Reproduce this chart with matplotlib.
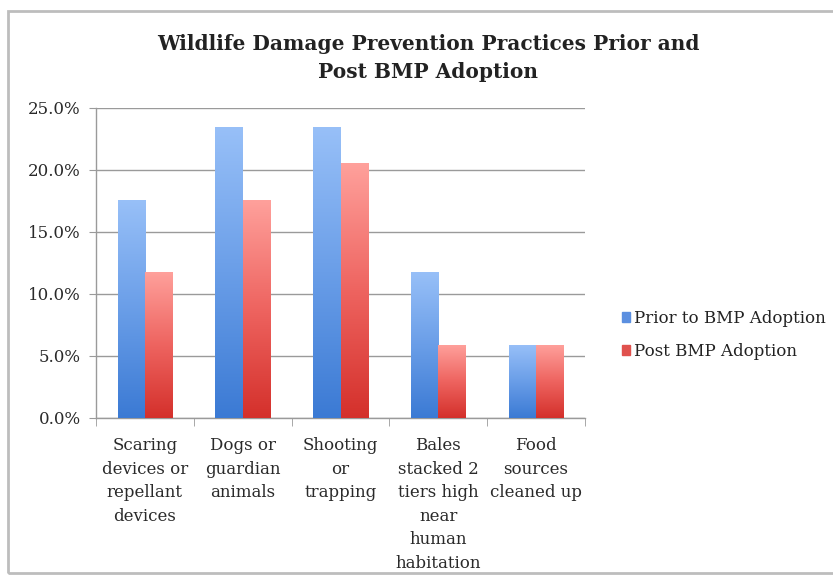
import numpy as np
import matplotlib
matplotlib.use("Agg")
import matplotlib.pyplot as plt
from matplotlib.patches import Rectangle
from matplotlib.colors import LinearSegmentedColormap
from matplotlib.ticker import PercentFormatter

categories = [
    "Scaring\ndevices or\nrepellant\ndevices",
    "Dogs or\nguardian\nanimals",
    "Shooting\nor\ntrapping",
    "Bales\nstacked 2\ntiers high\nnear\nhuman\nhabitation",
    "Food\nsources\ncleaned up",
]
prior = [17.6, 23.5, 23.5, 11.8, 5.9]
post = [11.8, 17.6, 20.6, 5.9, 5.9]
series_names = ["Prior to BMP Adoption", "Post BMP Adoption"]
yticks = [0, 5, 10, 15, 20, 25]

blue_grad = LinearSegmentedColormap.from_list("blue_grad", ["#3B7AD4", "#6A9EE8", "#98C0F8"])
red_grad = LinearSegmentedColormap.from_list("red_grad", ["#D4302B", "#EE6460", "#FFA19C"])

plt.rcParams["font.family"] = ["DejaVu Serif"]

W, H = 833, 578
fig = plt.figure(figsize=(W / 100, H / 100), dpi=100)

# outer chart frame
fig.patches.append(Rectangle((8 / W, 1 - 573 / H), (W - 4) / W, (573 - 11) / H,
                             transform=fig.transFigure, fill=False,
                             edgecolor="#bdbdbd", linewidth=2.0))

ax = fig.add_axes([96 / W, 1 - 418 / H, (585 - 96) / W, (418 - 108) / H])

x = np.arange(len(categories))
bw = 0.28
bars_prior = ax.bar(x - bw / 2, prior, bw, color="none", label=series_names[0], zorder=3)
bars_post = ax.bar(x + bw / 2, post, bw, color="none", label=series_names[1], zorder=3)

grad = np.linspace(0, 1, 256).reshape(-1, 1)
for bars, cmap in ((bars_prior, blue_grad), (bars_post, red_grad)):
    for b in bars:
        bx, by = b.get_x(), b.get_y()
        w, h = b.get_width(), b.get_height()
        im = ax.imshow(grad, cmap=cmap, origin="lower", aspect="auto",
                       extent=[bx, bx + w, by, by + h], zorder=3)
        im.set_clip_path(b)

ax.set_xlim(-0.5, len(categories) - 0.5)
ax.set_ylim(0, 25)
ax.set_yticks(yticks)
ax.yaxis.set_major_formatter(PercentFormatter(decimals=1))
ax.grid(axis="y", color="#9a9a9a", linewidth=1.0, zorder=0)
ax.set_axisbelow(True)

for side in ("top", "right"):
    ax.spines[side].set_visible(False)
for side in ("left", "bottom"):
    ax.spines[side].set_color("#9a9a9a")
    ax.spines[side].set_linewidth(1.0)

ax.tick_params(axis="y", length=5, color="#9a9a9a", labelsize=12, pad=6, labelcolor="#2a2a2a")
ax.set_xticks(x)
ax.set_xticklabels(categories, fontsize=12, linespacing=1.5, color="#2a2a2a")
ax.tick_params(axis="x", length=0, pad=14)
# category separators on the x axis
ax.set_xticks(np.arange(len(categories) + 1) - 0.5, minor=True)
ax.tick_params(axis="x", which="minor", length=6, color="#9a9a9a")

fig.text(428 / W, 1 - 58 / H, "Wildlife Damage Prevention Practices Prior and\nPost BMP Adoption",
         ha="center", va="center", fontsize=14.5, fontweight="bold", linespacing=1.5,
         color="#222222")

handles = [Rectangle((0, 0), 1, 1, color="#5B8FE0"), Rectangle((0, 0), 1, 1, color="#E0514D")]
fig.legend(handles, series_names, loc="center left", bbox_to_anchor=(607 / W, 1 - 335 / H),
           frameon=False, fontsize=12, handlelength=0.5, handleheight=0.5,
           handletextpad=0.25, labelspacing=0.95, labelcolor="#222222")

fig.savefig("out.png", dpi=100, facecolor="white")
